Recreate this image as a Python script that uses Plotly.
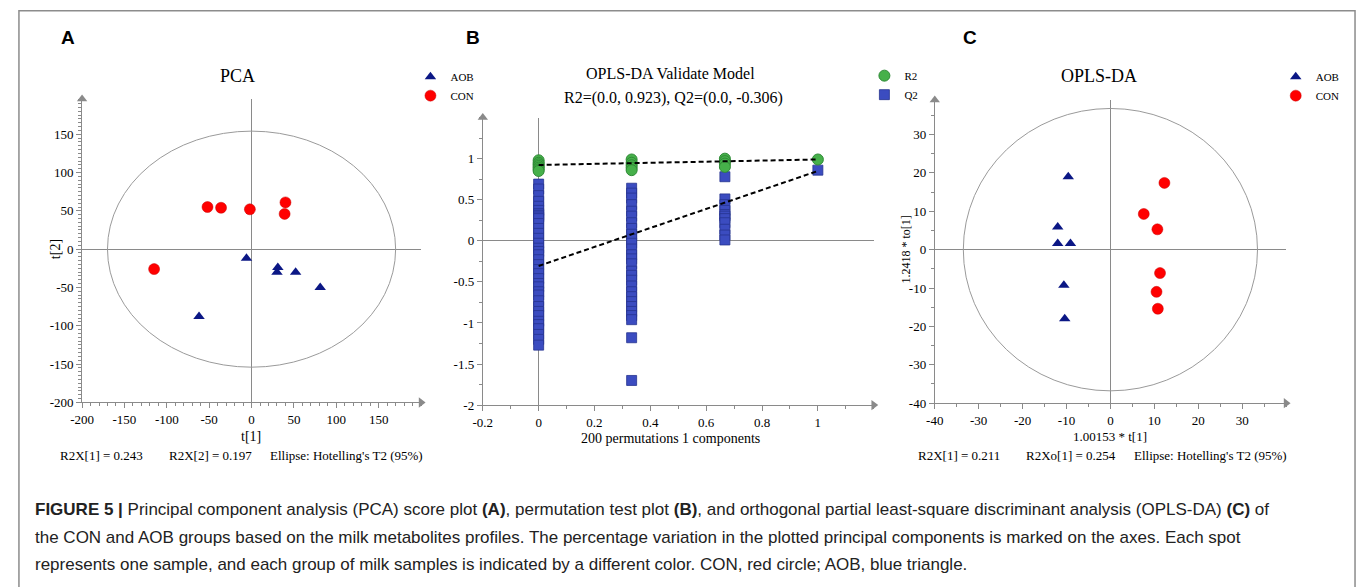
import plotly.graph_objects as go

W, H = 1358, 587
SERIF = "Liberation Serif"
SANS = "Liberation Sans"
GREY = "#8a8a8a"

def px(x):
    return x / W

def py(y):
    return 1 - y / H

# ---------------- Panel A: PCA scores ----------------
pca_con_x = [-52, -36, -2, 40, 39, -115]
pca_con_y = [55, 54, 52, 61, 46, -26]
pca_aob_x = [-6, 31, 30, 52, 81, -62]
pca_aob_y = [-12, -24, -30, -30, -50, -88]
pca_ellipse = (170, 154)
pca_xrange = [-200, 200]
pca_yrange = [-200, 196]
pca_ticks = [-200, -150, -100, -50, 0, 50, 100, 150]

# ---------------- Panel B: permutation test ----------------
perm_levels = [0.0, 0.333, 0.667, 1.0]
r2_lvl0 = [0.98, 0.95, 0.93, 0.91, 0.89, 0.87, 0.85]
r2_lvl1 = [0.99, 0.95, 0.92, 0.89, 0.86]
r2_lvl2 = [1.0, 0.97, 0.94, 0.90]
r2_lvl3 = [0.99]
q2_lvl0 = [0.69, 0.63, 0.55, 0.48, 0.42, 0.37, 0.33, 0.31, 0.29, 0.27, 0.21, 0.15,
           0.09, 0.03, -0.03, -0.09, -0.13, -0.17, -0.23, -0.29, -0.35, -0.40, -0.46,
           -0.52, -0.56, -0.62, -0.66, -0.73, -0.80, -0.86, -0.91, -0.98, -1.02, -1.07,
           -1.14, -1.20, -1.27]
q2_lvl1 = [0.64, 0.58, 0.52, 0.44, 0.36, 0.30, 0.22, 0.15, 0.08, 0.02, -0.03, -0.10,
           -0.17, -0.22, -0.28, -0.37, -0.42, -0.48, -0.55, -0.62, -0.68, -0.74, -0.80,
           -0.86, -0.91, -0.96, -1.18, -1.70]
q2_lvl2 = [0.78, 0.51, 0.44, 0.37, 0.32, 0.30, 0.27, 0.22, 0.14, 0.07, 0.01]
q2_lvl3 = [0.86]
r2_line = [0.923, 0.99]
q2_line = [-0.306, 0.85]
perm_xrange = [-0.2, 1.2]
perm_yrange = [-2, 1.5]
perm_xticks = [-0.2, 0, 0.2, 0.4, 0.6, 0.8, 1]
perm_xticktext = ["-0.2", "0", "0.2", "0.4", "0.6", "0.8", "1"]
perm_yticks = [-2, -1.5, -1, -0.5, 0, 0.5, 1]
perm_yticktext = ["-2", "-1.5", "-1", "-0.5", "0", "0.5", "1"]

# ---------------- Panel C: OPLS-DA scores ----------------
opls_con_x = [12.3, 7.6, 10.7, 11.3, 10.5, 10.8]
opls_con_y = [17.4, 9.3, 5.3, -6.1, -11.0, -15.4]
opls_aob_x = [-9.6, -12.0, -12.0, -9.1, -10.6, -10.4]
opls_aob_y = [19.0, 5.9, 1.6, 1.6, -9.3, -18.0]
opls_ellipse = (33.5, 36.8)
opls_xrange = [-40, 40]
opls_yrange = [-40, 39]
opls_ticks = [-40, -30, -20, -10, 0, 10, 20, 30]

r2_x = []
r2_y = []
for lv, vals in zip(perm_levels, [r2_lvl0, r2_lvl1, r2_lvl2, r2_lvl3]):
    r2_x += [lv] * len(vals)
    r2_y += vals
q2_x = []
q2_y = []
for lv, vals in zip(perm_levels, [q2_lvl0, q2_lvl1, q2_lvl2, q2_lvl3]):
    q2_x += [lv] * len(vals)
    q2_y += vals

fig = go.Figure()

CON_M = dict(symbol="circle", size=11, color="#ff0000", line=dict(color="#c80000", width=0.5))
AOB_M = dict(symbol="triangle-up", size=10, color="#0b1785", line=dict(width=0))

# Panel A
fig.add_trace(go.Scatter(x=pca_aob_x, y=pca_aob_y, mode="markers", name="AOB", marker=AOB_M,
                         xaxis="x", yaxis="y", legend="legend", legendgroup="a1"))
fig.add_trace(go.Scatter(x=pca_con_x, y=pca_con_y, mode="markers", name="CON", marker=CON_M,
                         xaxis="x", yaxis="y", legend="legend", legendgroup="a2"))

# Panel B
fig.add_trace(go.Scatter(x=q2_x, y=q2_y, mode="markers", name="Q2",
                         marker=dict(symbol="square", size=10, color="#3b4cc0",
                                     line=dict(color="#26338f", width=0.8)),
                         xaxis="x2", yaxis="y2", legend="legend2", legendgroup="b2", legendrank=2))
fig.add_trace(go.Scatter(x=r2_x, y=r2_y, mode="markers", name="R2",
                         marker=dict(symbol="circle", size=11, color="#46b04a",
                                     line=dict(color="#2f8a36", width=1)),
                         xaxis="x2", yaxis="y2", legend="legend2", legendgroup="b1", legendrank=1))
fig.add_trace(go.Scatter(x=[perm_levels[0], perm_levels[-1]], y=r2_line, mode="lines",
                         line=dict(color="black", width=2, dash="5px,3px"),
                         xaxis="x2", yaxis="y2", showlegend=False, hoverinfo="skip"))
fig.add_trace(go.Scatter(x=[perm_levels[0], perm_levels[-1]], y=q2_line, mode="lines",
                         line=dict(color="black", width=2, dash="5px,3px"),
                         xaxis="x2", yaxis="y2", showlegend=False, hoverinfo="skip"))

# Panel C
fig.add_trace(go.Scatter(x=opls_aob_x, y=opls_aob_y, mode="markers", name="AOB", marker=AOB_M,
                         xaxis="x3", yaxis="y3", legend="legend3", legendgroup="c1"))
fig.add_trace(go.Scatter(x=opls_con_x, y=opls_con_y, mode="markers", name="CON", marker=CON_M,
                         xaxis="x3", yaxis="y3", legend="legend3", legendgroup="c2"))

# axis arrowheads
for xa, ya, xr, yr in [("x", "y", pca_xrange, pca_yrange),
                       ("x2", "y2", perm_xrange, perm_yrange),
                       ("x3", "y3", opls_xrange, opls_yrange)]:
    fig.add_trace(go.Scatter(x=[xr[0], xr[1]], y=[yr[1], yr[0]], mode="markers",
                             marker=dict(symbol=["triangle-up", "triangle-right"], size=9, color=GREY),
                             cliponaxis=False, xaxis=xa, yaxis=ya, showlegend=False, hoverinfo="skip"))

# ellipses
fig.add_shape(type="circle", xref="x", yref="y", x0=-pca_ellipse[0], x1=pca_ellipse[0],
              y0=-pca_ellipse[1], y1=pca_ellipse[1], line=dict(color="#9a9a9a", width=1))
fig.add_shape(type="circle", xref="x3", yref="y3", x0=-opls_ellipse[0], x1=opls_ellipse[0],
              y0=-opls_ellipse[1], y1=opls_ellipse[1], line=dict(color="#9a9a9a", width=1))

# outer border
fig.add_shape(type="rect", xref="paper", yref="paper", x0=px(7), x1=px(1355), y0=-0.02, y1=py(11),
              line=dict(color="#8c8c8c", width=1.5))

tickfont = dict(family=SERIF, size=13, color="black")

def axis(domain, rng, tickvals, ticktext, minor_dtick, anchor):
    return dict(domain=domain, range=rng, tickvals=tickvals, ticktext=ticktext,
                showgrid=False, zeroline=True, zerolinecolor=GREY, zerolinewidth=1,
                showline=True, linecolor=GREY, linewidth=1, ticks="outside", ticklen=5,
                tickcolor=GREY, tickfont=tickfont, anchor=anchor, fixedrange=True,
                minor=dict(dtick=minor_dtick, ticks="outside", ticklen=3, tickcolor=GREY, showgrid=False))

pca_tt = [str(v) for v in pca_ticks]
opls_tt = [str(v) for v in opls_ticks]

legend_common = dict(xanchor="left", yanchor="top", bgcolor="rgba(0,0,0,0)",
                     font=dict(family=SERIF, size=11, color="black"), itemwidth=30,
                     tracegroupgap=2, traceorder="normal")

fig.update_layout(
    width=W, height=H, autosize=False,
    margin=dict(l=0, r=0, t=0, b=0),
    paper_bgcolor="white", plot_bgcolor="white",
    xaxis=axis([px(70.7), px(412.7)], pca_xrange, pca_ticks, pca_tt, 10, "y"),
    yaxis=axis([py(408), py(100.3)], pca_yrange, pca_ticks, pca_tt, 5, "x"),
    xaxis2=axis([px(475), px(869.4)], perm_xrange, perm_xticks, perm_xticktext, 0.1, "y2"),
    yaxis2=axis([py(410.7), py(119.2)], perm_yrange, perm_yticks, perm_yticktext, 0.25, "x2"),
    xaxis3=axis([px(931), px(1285.4)], opls_xrange, opls_ticks, opls_tt, 5, "y3"),
    yaxis3=axis([py(408.7), py(101.4)], opls_yrange, opls_ticks, opls_tt, 5, "x3"),
    legend=dict(x=px(402), y=py(63), **legend_common),
    legend2=dict(x=px(860), y=py(62), **legend_common),
    legend3=dict(x=px(1275), y=py(63), **legend_common),
    showlegend=True,
)

def note(text, x, y, size=13, family=SERIF, color="black", angle=0, xanchor="center"):
    fig.add_annotation(text=text, x=px(x), y=py(y), xref="paper", yref="paper", showarrow=False,
                       font=dict(family=family, size=size, color=color), textangle=angle,
                       xanchor=xanchor, yanchor="middle")

# panel letters
note("<b>A</b>", 57, 38, size=19, family=SANS)
note("<b>B</b>", 465, 38, size=19, family=SANS)
note("<b>C</b>", 967, 38, size=19, family=SANS)

# titles
note("PCA", 228, 77, size=18)
note("OPLS-DA Validate Model", 664, 75, size=16)
note("R2=(0.0, 0.923), Q2=(0.0, -0.306)", 667, 99, size=16)
note("OPLS-DA", 1097, 77, size=18)

# axis titles
note("t[1]", 241, 443, size=14)
note("t[2]", 44, 253, size=14, angle=-90)
note("200 permutations 1 components", 664, 445, size=14)
note("1.00153 * t[1]", 1108, 443, size=13)
note("1.2418 * to[1]", 902, 253, size=12, angle=-90)

# model statistics
note("R2X[1] = 0.243", 90, 462, size=13)
note("R2X[2] = 0.197", 200, 462, size=13)
note("Ellipse: Hotelling's T2 (95%)", 337, 462, size=13)
note("R2X[1] = 0.211", 955, 462, size=13)
note("R2Xo[1] = 0.254", 1068, 462, size=13)
note("Ellipse: Hotelling's T2 (95%)", 1209, 462, size=13)

# caption
cap1 = ("<b>FIGURE 5 |</b> Principal component analysis (PCA) score plot <b>(A)</b>, permutation test plot "
        "<b>(B)</b>, and orthogonal partial least-square discriminant analysis (OPLS-DA) <b>(C)</b> of")
cap2 = ("the CON and AOB groups based on the milk metabolites profiles. The percentage variation in the "
        "plotted principal components is marked on the axes. Each spot")
cap3 = ("represents one sample, and each group of milk samples is indicated by a different color. "
        "CON, red circle; AOB, blue triangle.")
note(cap1, 21, 517, size=17, family=SANS, color="#222222", xanchor="left")
note(cap2, 21, 545, size=17, family=SANS, color="#222222", xanchor="left")
note(cap3, 21, 572, size=17, family=SANS, color="#222222", xanchor="left")

fig.write_html("out.html", config={"displayModeBar": False},
               post_script="document.body.style.margin='0';document.body.style.overflow='hidden';")
